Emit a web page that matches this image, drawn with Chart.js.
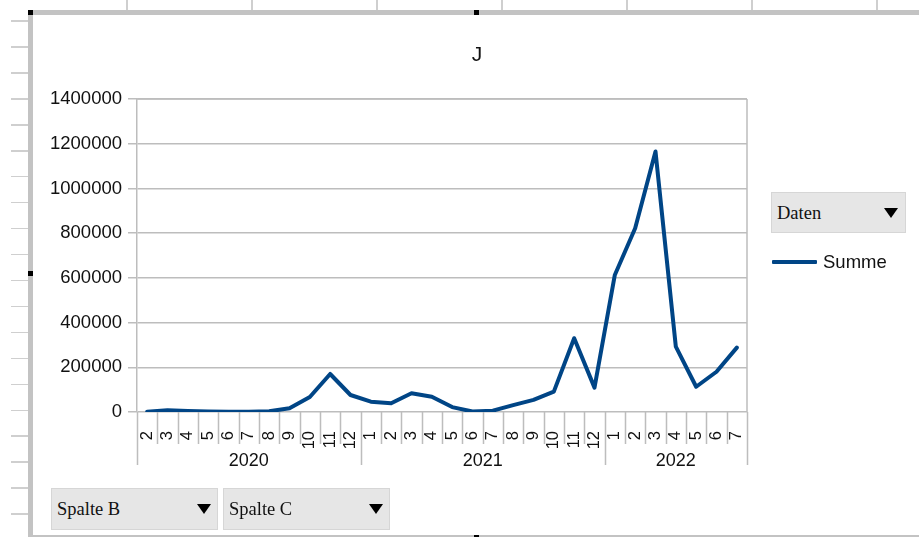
<!DOCTYPE html>
<html>
<head>
<meta charset="utf-8">
<script src="https://cdn.jsdelivr.net/npm/chart.js@4/dist/chart.umd.min.js"></script>
<style>
  html, body { margin: 0; padding: 0; background: #fff; }
  #wrap { position: relative; width: 919px; height: 537px; overflow: hidden; background: #fff; }
  #c { position: absolute; left: 0; top: 0; }
  .deco { position: absolute; }
  .btn { position: absolute; background: #e6e6e6; border: 1px solid #d6d6d6; box-sizing: border-box;
         font-family: "Liberation Serif", serif; font-size: 18.5px; color: #111; }
  .btn span.t { position: absolute; left: 5px; top: 50%; transform: translateY(-50%); white-space: nowrap; }
  .tri { position: absolute; width: 0; height: 0; border-left: 7px solid transparent; border-right: 7px solid transparent;
         border-top: 10px solid #000; top: 50%; transform: translateY(-50%); }
  #legend { position: absolute; left: 772px; top: 250px; font-family: "Liberation Sans", Arial, sans-serif; font-size: 18.5px; color: #111; }
</style>
</head>
<body>
<div id="wrap">
  <canvas id="c" width="919" height="537"></canvas>
</div>
<script>
// ---- data ----
const chartTitle = 'J';
const seriesName = 'Summe';
const yearLabels = ['2020', '2021', '2022'];
const months2020 = ['2', '3', '4', '5', '6', '7', '8', '9', '10', '11', '12'];
const months2021 = ['1', '2', '3', '4', '5', '6', '7', '8', '9', '10', '11', '12'];
const months2022 = ['1', '2', '3', '4', '5', '6', '7'];
const values2020 = [1000, 8000, 5000, 2000, 1000, 1000, 3000, 17000, 67000, 170000, 76000];
const values2021 = [46000, 39000, 84000, 68000, 22000, 2000, 6000, 31000, 54000, 91000, 330000, 109000];
const values2022 = [613000, 822000, 1165000, 292000, 113000, 180000, 288000];
const yTicks = [0, 200000, 400000, 600000, 800000, 1000000, 1200000, 1400000];
const pivotColumnFields = ['Spalte B', 'Spalte C'];
const pivotDataField = 'Daten';

const monthGroups = [months2020, months2021, months2022];
const categories = [].concat(...monthGroups);
const values = [].concat(values2020, values2021, values2022);

const LINE = '#004586';
const GRID = '#bdbdbd';
const FONT = '"Liberation Sans", Arial, sans-serif';

// ---- spreadsheet frame decorations ----
const wrap = document.getElementById('wrap');
function addDiv(css) { const d = document.createElement('div'); d.className = 'deco'; Object.assign(d.style, css); wrap.appendChild(d); return d; }
[126, 251, 376, 501, 626, 751, 876].forEach(x => addDiv({left: x + 'px', top: '0px', width: '1.5px', height: '10px', background: '#cfcfcf'}));
for (let k = 0; k < 20; k++) addDiv({left: '11px', top: (21 + k * 25.95 - 0.75) + 'px', width: '17px', height: '1.5px', background: '#cfcfcf'});
addDiv({left: '28px', top: '10px', width: '891px', height: '5px', background: '#c3c3c3'});
addDiv({left: '28px', top: '10px', width: '5px', height: '527px', background: '#c3c3c3'});
addDiv({left: '28px', top: '535px', width: '891px', height: '2px', background: '#c3c3c3'});
[[28, 10], [474, 10], [28, 271], [474, 535]].forEach(p => addDiv({left: p[0] + 'px', top: p[1] + 'px', width: '5px', height: '5px', background: '#000'}));

function addButton(text, left, top, w, h, triX) {
  const b = document.createElement('div');
  b.className = 'btn';
  Object.assign(b.style, {left: left + 'px', top: top + 'px', width: w + 'px', height: h + 'px'});
  const t = document.createElement('span'); t.className = 't'; t.textContent = text; b.appendChild(t);
  const tr = document.createElement('div'); tr.className = 'tri'; tr.style.left = (triX - left - 7) + 'px'; b.appendChild(tr);
  wrap.appendChild(b);
}
addButton(pivotColumnFields[0], 51, 488, 167, 42, 203);
addButton(pivotColumnFields[1], 223, 488, 167, 42, 375);
addButton(pivotDataField, 771, 192, 135, 41, 890);

// ---- plugin: hierarchical category axis + plot border ----
const axisPlugin = {
  id: 'hierAxis',
  beforeDatasetsDraw(chart) {
    const {ctx, chartArea: a} = chart;
    ctx.save();
    ctx.strokeStyle = GRID;
    ctx.lineWidth = 1.5;
    ctx.beginPath();
    ctx.moveTo(a.left, a.top); ctx.lineTo(a.right, a.top);
    ctx.moveTo(a.right, a.top); ctx.lineTo(a.right, a.bottom);
    ctx.stroke();
    ctx.restore();
  },
  afterDraw(chart) {
    const {ctx, chartArea: a} = chart;
    const xs = chart.scales.x;
    ctx.save();
    ctx.strokeStyle = GRID;
    ctx.lineWidth = 1.5;
    ctx.beginPath();
    for (let i = 0; i <= categories.length; i++) {
      const px = Math.round(xs.getPixelForValue(i - 0.5)) + 0.5;
      ctx.moveTo(px, a.bottom); ctx.lineTo(px, a.bottom + 32);
    }
    let start = 0;
    const bounds = [];
    monthGroups.forEach(g => { bounds.push([start, start + g.length]); start += g.length; });
    bounds.forEach(([s, e]) => {
      [s, e].forEach(v => {
        const px = Math.round(xs.getPixelForValue(v - 0.5)) + 0.5;
        ctx.moveTo(px, a.bottom); ctx.lineTo(px, a.bottom + 53);
      });
    });
    ctx.stroke();
    ctx.fillStyle = '#111';
    ctx.font = '18px ' + FONT;
    ctx.textAlign = 'center';
    ctx.textBaseline = 'middle';
    bounds.forEach(([s, e], i) => {
      const x0 = xs.getPixelForValue(s - 0.5), x1 = xs.getPixelForValue(e - 0.5);
      ctx.fillText(yearLabels[i], (x0 + x1) / 2, a.bottom + 49);
    });
    ctx.restore();
  }
};

const chart = new Chart(document.getElementById('c'), {
  type: 'line',
  data: {
    labels: categories,
    datasets: [{
      label: seriesName,
      data: values,
      borderColor: LINE,
      backgroundColor: LINE,
      borderWidth: 4,
      pointRadius: 0,
      tension: 0,
      borderJoinStyle: 'round',
      borderCapStyle: 'round'
    }]
  },
  options: {
    responsive: false,
    animation: false,
    devicePixelRatio: 1,
    layout: { padding: { left: 35, right: 0, top: 0, bottom: 0 } },
    plugins: {
      legend: { display: false },
      tooltip: { enabled: false },
      title: {
        display: true, text: chartTitle, color: '#111',
        font: { family: FONT, size: 21, weight: 'normal' },
        padding: { top: 43, bottom: 30.8 }
      }
    },
    scales: {
      x: {
        type: 'category',
        offset: true,
        grid: { display: false },
        border: { display: false },
        ticks: {
          autoSkip: false, maxRotation: 90, minRotation: 90, padding: 11,
          color: '#111', font: { family: FONT, size: 16.5 }
        },
        afterFit(s) { s.height = 125; }
      },
      y: {
        min: 0, max: 1400000,
        afterBuildTicks(s) { s.ticks = yTicks.map(v => ({value: v})); },
        grid: { color: GRID, lineWidth: 1.5, tickLength: 9, drawTicks: true },
        border: { display: true, color: GRID, width: 1.5 },
        ticks: { padding: 6, color: '#111', font: { family: FONT, size: 18.5 }, callback: v => String(v) },
        afterFit(s) { s.width = 102; }
      },
      yRight: {
        position: 'right',
        min: 0, max: 1,
        grid: { display: false },
        border: { display: false },
        ticks: { display: false },
        afterFit(s) { s.width = 172; }
      }
    }
  },
  plugins: [axisPlugin]
});

// ---- legend (from dataset) ----
const lg = document.createElement('div');
lg.id = 'legend';
chart.data.datasets.forEach(ds => {
  const row = document.createElement('div');
  row.style.position = 'relative'; row.style.height = '24px';
  const sw = document.createElement('div');
  Object.assign(sw.style, {position: 'absolute', left: '0px', top: '9.5px', width: '45px', height: '4px', background: ds.borderColor, borderRadius: '1px'});
  const tx = document.createElement('span');
  Object.assign(tx.style, {position: 'absolute', left: '51px', top: '0px', lineHeight: '24px', whiteSpace: 'nowrap'});
  tx.textContent = ds.label;
  row.appendChild(sw); row.appendChild(tx); lg.appendChild(row);
});
wrap.appendChild(lg);
</script>
</body>
</html>
